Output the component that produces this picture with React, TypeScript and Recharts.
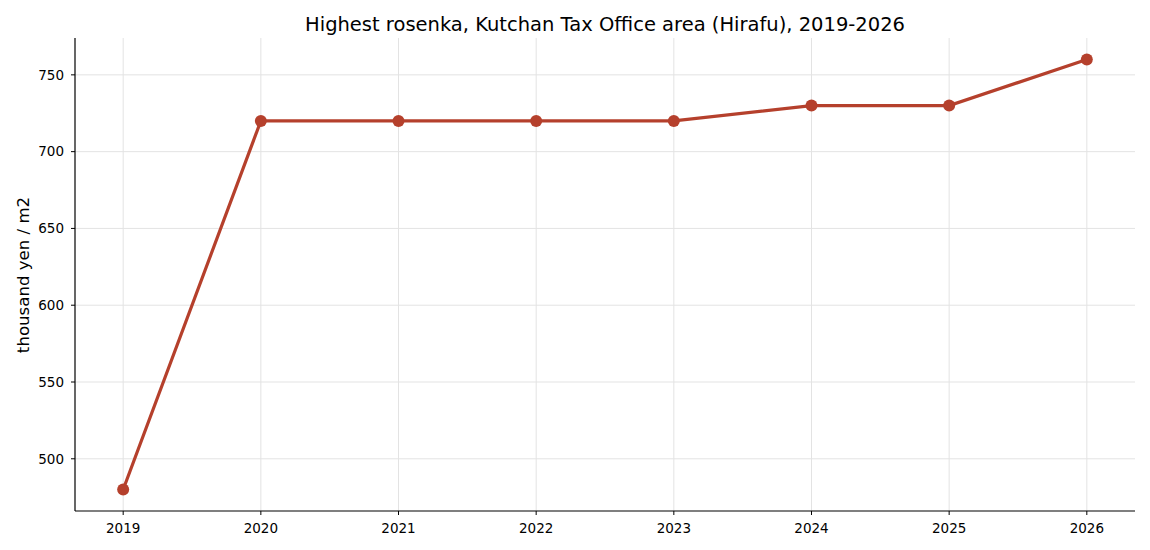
import React from 'react';
import { LineChart, Line, XAxis, YAxis, CartesianGrid } from 'recharts';

const years = [2019, 2020, 2021, 2022, 2023, 2024, 2025, 2026];
const rosenka = [480, 720, 720, 720, 720, 730, 730, 760];
const yTicks = [500, 550, 600, 650, 700, 750];

const data = years.map((year, i) => ({ year, value: rosenka[i] }));

const FONT = '"DejaVu Sans", sans-serif';
const COLOR = '#b5402c';

export default function App() {
  return (
    <div style={{ position: 'absolute', left: 0, top: 0, width: 1150, height: 550, fontFamily: FONT, background: '#fff' }}>
      <div
        style={{
          position: 'absolute',
          left: 75,
          width: 1060,
          top: 13,
          textAlign: 'center',
          fontSize: 19.5,
          color: '#000',
        }}
      >
        Highest rosenka, Kutchan Tax Office area (Hirafu), 2019-2026
      </div>
      <div
        style={{
          position: 'absolute',
          left: 23,
          top: 275,
          transform: 'translate(-50%, -50%) rotate(-90deg)',
          whiteSpace: 'nowrap',
          fontSize: 16.6,
          color: '#000',
        }}
      >
        thousand yen / m2
      </div>
      <LineChart
        width={1150}
        height={550}
        data={data}
        margin={{ top: 38, right: 15, bottom: 0, left: 0 }}
        style={{ position: 'absolute', left: 0, top: 0 }}
      >
        <CartesianGrid
          stroke="#e3e3e3"
          strokeWidth={1}
          horizontalValues={yTicks}
          verticalValues={years}
        />
        <XAxis
          dataKey="year"
          type="number"
          domain={[2018.65, 2026.35]}
          ticks={years}
          allowDataOverflow
          height={39}
          tickSize={4}
          tickMargin={8}
          axisLine={{ stroke: '#000', strokeWidth: 1.2 }}
          tickLine={{ stroke: '#000' }}
          tick={{ fill: '#000', fontSize: 13.5, fontFamily: FONT }}
        />
        <YAxis
          type="number"
          domain={[466, 774]}
          ticks={yTicks}
          allowDataOverflow
          width={75}
          tickSize={4}
          tickMargin={7}
          axisLine={{ stroke: '#000', strokeWidth: 1.2 }}
          tickLine={{ stroke: '#000' }}
          tick={{ fill: '#000', fontSize: 13.5, fontFamily: FONT }}
        />
        <Line
          dataKey="value"
          type="linear"
          stroke={COLOR}
          strokeWidth={3.2}
          dot={{ r: 6, fill: COLOR, stroke: COLOR, strokeWidth: 0 }}
          activeDot={false}
          isAnimationActive={false}
        />
      </LineChart>
    </div>
  );
}
